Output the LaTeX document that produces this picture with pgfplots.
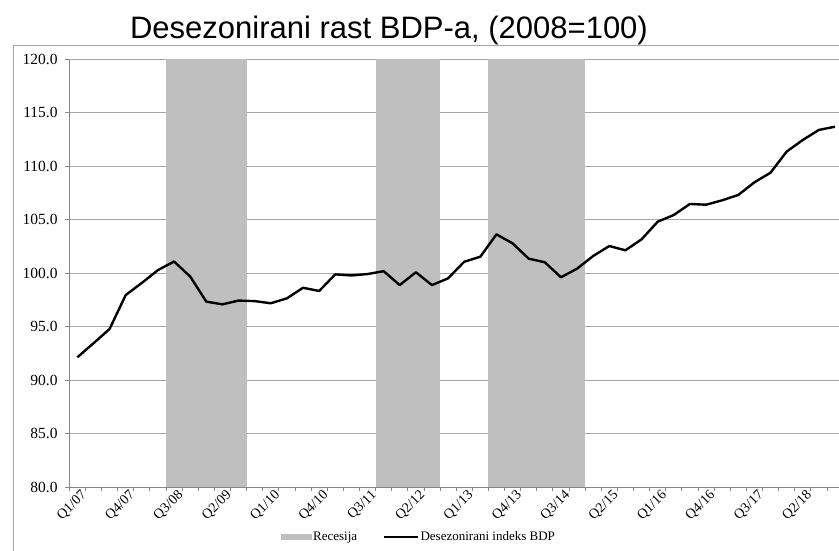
\documentclass[border=0pt]{standalone}
\usepackage{fontspec}
\setmainfont{Liberation Serif}
\newfontfamily\arialf{Liberation Sans}
\newfontfamily\timesf{Liberation Serif}
\usepackage{pgfplots}
\pgfplotsset{compat=1.18}
\definecolor{band}{RGB}{191,191,191}
\definecolor{gridc}{RGB}{166,166,166}
\definecolor{axc}{RGB}{134,134,134}
\begin{document}
\begin{tikzpicture}
\path[use as bounding box] (0pt,0pt) rectangle (839pt,-551pt);
\draw[gridc, line width=0.8pt] (13pt,-560pt) -- (13pt,-45pt) -- (850pt,-45pt);
\node[font=\arialf\fontsize{31}{36}\selectfont, anchor=base, inner sep=0pt] at (389pt,-39pt) {Desezonirani rast BDP-a, (2008=100)};
\begin{axis}[
  at={(69.3pt,-487.3pt)}, anchor=south west,
  scale only axis, width=769.7pt, height=428pt,
  xmin=-0.5, xmax=47.25, ymin=80, ymax=120,
  axis lines=left,
  axis line style={-, axc, line width=0.8pt},
  tick align=outside,
  major tick length=0pt,
  minor tick length=4pt,
  tick style={axc, line width=0.8pt},
  ytick={80,85,...,120},
  minor ytick={80,85,...,120},
  yticklabels={80.0,85.0,90.0,95.0,100.0,105.0,110.0,115.0,120.0},
  yticklabel style={font=\timesf\fontsize{15.5}{17}\selectfont, inner sep=1.5pt, xshift=-10pt},
  ymajorgrids,
  grid style={gridc, line width=0.8pt},
  xtick={0,3,...,45},
  xticklabels={Q1/07,Q4/07,Q3/08,Q2/09,Q1/10,Q4/10,Q3/11,Q2/12,Q1/13,Q4/13,Q3/14,Q2/15,Q1/16,Q4/16,Q3/17,Q2/18},
  minor xtick={-0.5,0.5,...,47.5},
  xticklabel style={rotate=45, anchor=north east, font=\timesf\fontsize{14}{16}\selectfont, inner sep=1pt, yshift=-2pt, xshift=2pt},
  clip=false,
  legend style={at={(0.4537,-0.116)}, anchor=center, draw=none, fill=none,
    font=\timesf\fontsize{13}{15}\selectfont, legend columns=2,
    /tikz/every even column/.append style={column sep=24pt},
    nodes={inner sep=1.5pt}},
]
\addplot[fill=band, draw=none, legend image code/.code={\fill[band] (0pt,-3pt) rectangle (31pt,3pt);}]
  coordinates {(5.5,80) (5.5,120) (10.5,120) (10.5,80)} -- cycle;
\addlegendentry{Recesija}
\addplot[fill=band, draw=none, forget plot]
  coordinates {(18.5,80) (18.5,120) (22.5,120) (22.5,80)} -- cycle;
\addplot[fill=band, draw=none, forget plot]
  coordinates {(25.5,80) (25.5,120) (31.5,120) (31.5,80)} -- cycle;
\addplot[black, line width=2.4pt, line join=round, mark=none,
  legend image code/.code={\draw[black, line width=2.4pt] (0pt,0pt) -- (34pt,0pt);}]
  coordinates {
  (0,92.15) (1,93.46) (2,94.8) (3,97.97) (4,99.1) (5,100.3) (6,101.1) (7,99.7)
  (8,97.35) (9,97.1) (10,97.45) (11,97.4) (12,97.2) (13,97.66) (14,98.65) (15,98.35)
  (16,99.9) (17,99.8) (18,99.93) (19,100.2) (20,98.9) (21,100.1) (22,98.9) (23,99.53)
  (24,101.08) (25,101.55) (26,103.64) (27,102.8) (28,101.37) (29,101.03) (30,99.63) (31,100.43)
  (32,101.62) (33,102.55) (34,102.15) (35,103.17) (36,104.82) (37,105.45) (38,106.48) (39,106.41)
  (40,106.82) (41,107.32) (42,108.5) (43,109.4) (44,111.37) (45,112.46) (46,113.4) (47,113.7)
  };
\addlegendentry{Desezonirani indeks BDP}
\end{axis}
\end{tikzpicture}
\end{document}
